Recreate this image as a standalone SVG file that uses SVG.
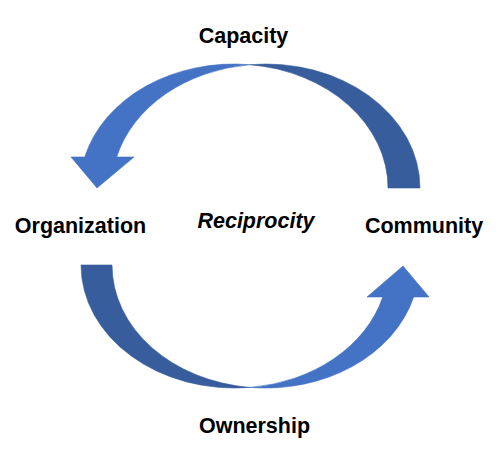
<svg xmlns="http://www.w3.org/2000/svg" width="499" height="454" viewBox="0 0 499 454">
<style>
.lbl{font-family:"Liberation Sans",Arial,sans-serif;font-weight:bold;font-size:21.5px;fill:#000;text-anchor:middle}
.it{font-style:italic}
.light{fill:#4472C4;stroke:#4472C4;stroke-width:0.6}
.dark{fill:#385D9C;stroke:#385D9C;stroke-width:0.6}
</style>
<rect width="499" height="454" fill="#fff"/>
<g id="connectors">
<g id="arrow-top">
<path class="dark" d="M250 64.7 A154 124 0 0 1 420 188 L388 188 A154 124 0 0 0 250 64.7 Z"/>
<path class="light" d="M250 64.7 A154 124 0 0 0 84.7 157 L71 157 L97 188 L134 157 L116.7 157 A154 124 0 0 1 250 64.7 Z"/>
</g>
<g id="arrow-bottom">
<path class="dark" d="M81 265 A153.5 123 0 0 0 250 387.4 A153.5 123 0 0 1 112 265 Z"/>
<path class="light" d="M250 387.4 A153.5 123 0 0 0 413.7 297 L429 297 L403 266 L367 297 L382.7 297 A153.5 123 0 0 1 250 387.4 Z"/>
</g>
</g>
<g id="node-capacity"><text class="lbl" x="243.5" y="43">Capacity</text></g>
<g id="node-organization"><text class="lbl" x="80.5" y="233">Organization</text></g>
<g id="node-reciprocity"><text class="lbl it" x="256" y="228">Reciprocity</text></g>
<g id="node-community"><text class="lbl" x="424" y="233">Community</text></g>
<g id="node-ownership"><text class="lbl" x="254.5" y="433">Ownership</text></g>
</svg>
